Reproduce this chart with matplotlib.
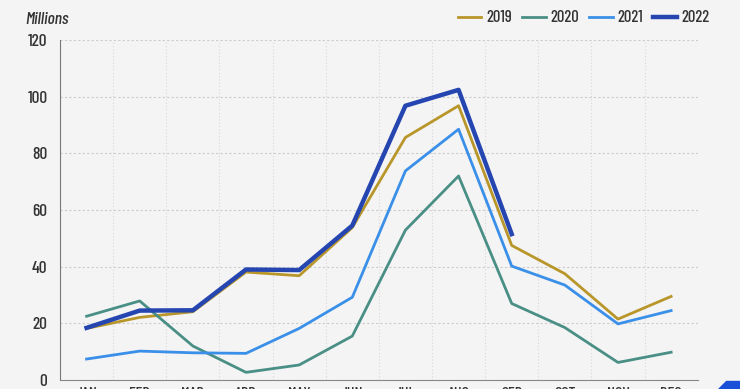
import matplotlib
matplotlib.use("Agg")
from matplotlib import pyplot as plt
from matplotlib.patches import Polygon

months = ['JAN', 'FEB', 'MAR', 'APR', 'MAY', 'JUN', 'JUL', 'AUG', 'SEP', 'OCT', 'NOV', 'DEC']
y2019 = [18.2, 22.1, 24.1, 38.1, 36.8, 53.8, 85.6, 96.8, 47.5, 37.5, 21.5, 29.5]
y2020 = [22.5, 27.9, 12.0, 2.7, 5.3, 15.5, 52.9, 72.0, 27.0, 18.5, 6.2, 9.8]
y2021 = [7.4, 10.2, 9.6, 9.4, 18.2, 29.2, 73.8, 88.5, 40.2, 33.5, 19.8, 24.5]
y2022 = [18.4, 24.5, 24.6, 39.0, 38.8, 54.5, 96.8, 102.4, 51.5]

plt.rcParams['font.family'] = ['Barlow Condensed', 'Asap Condensed', 'DejaVu Sans']
plt.rcParams['font.weight'] = 'medium'

bg = '#f4f4f4'
fig = plt.figure(figsize=(7.4, 3.89), dpi=100, facecolor=bg)
ax = fig.add_axes([60 / 740, 1 - 380 / 389, 637.7 / 740, 340 / 389], facecolor=bg)

x = list(range(len(months)))
ax.plot(x, y2019, color='#b8962a', lw=2.0, label='2019', zorder=3)
ax.plot(x, y2020, color='#4a8f86', lw=2.0, label='2020', zorder=3)
ax.plot(x, y2021, color='#3a8fe8', lw=2.0, label='2021', zorder=3)
ax.plot(x[:len(y2022)], y2022, color='#2545b0', lw=3.2, label='2022', zorder=4)

ax.set_xlim(-0.5, 11.5)
ax.set_ylim(0, 120)
ax.set_yticks(range(0, 121, 20))
ax.set_xticks(x)
ax.set_xticklabels(months)
ax.set_xticks([i - 0.5 for i in range(13)], minor=True)
ax.tick_params(axis='x', which='both', length=0, pad=5, labelsize=11.5, colors='#333333')
ax.tick_params(axis='y', length=0, pad=9, labelsize=12.5, colors='#333333')

ax.grid(axis='y', color='#cccccc', ls=(0, (2, 2)), lw=0.8)
ax.grid(axis='x', which='minor', color='#d8d8d8', ls=(0, (1, 2)), lw=0.8)
ax.grid(axis='x', which='major', visible=False)
for s in ['top', 'right']:
    ax.spines[s].set_visible(False)
ax.spines['left'].set_color('#777777')
ax.spines['bottom'].set_color('#888888')

fig.text(25 / 740, 1 - 19 / 389, 'Millions', style='italic', fontsize=12.5,
         color='#333333', va='center', ha='left')

fig.legend(loc='center', bbox_to_anchor=(584 / 740, 1 - 18 / 389), ncol=4,
           frameon=False, fontsize=12, handlelength=1.4, handletextpad=0.3,
           columnspacing=0.6, labelcolor='#333333')

logo = Polygon([[718 / 740, 0], [740 / 740, 0], [740 / 740, 8 / 389], [726 / 740, 8 / 389]],
               closed=True, transform=fig.transFigure, color='#1a4fd8')
fig.patches.append(logo)

fig.savefig('out.png', dpi=100, facecolor=bg)
